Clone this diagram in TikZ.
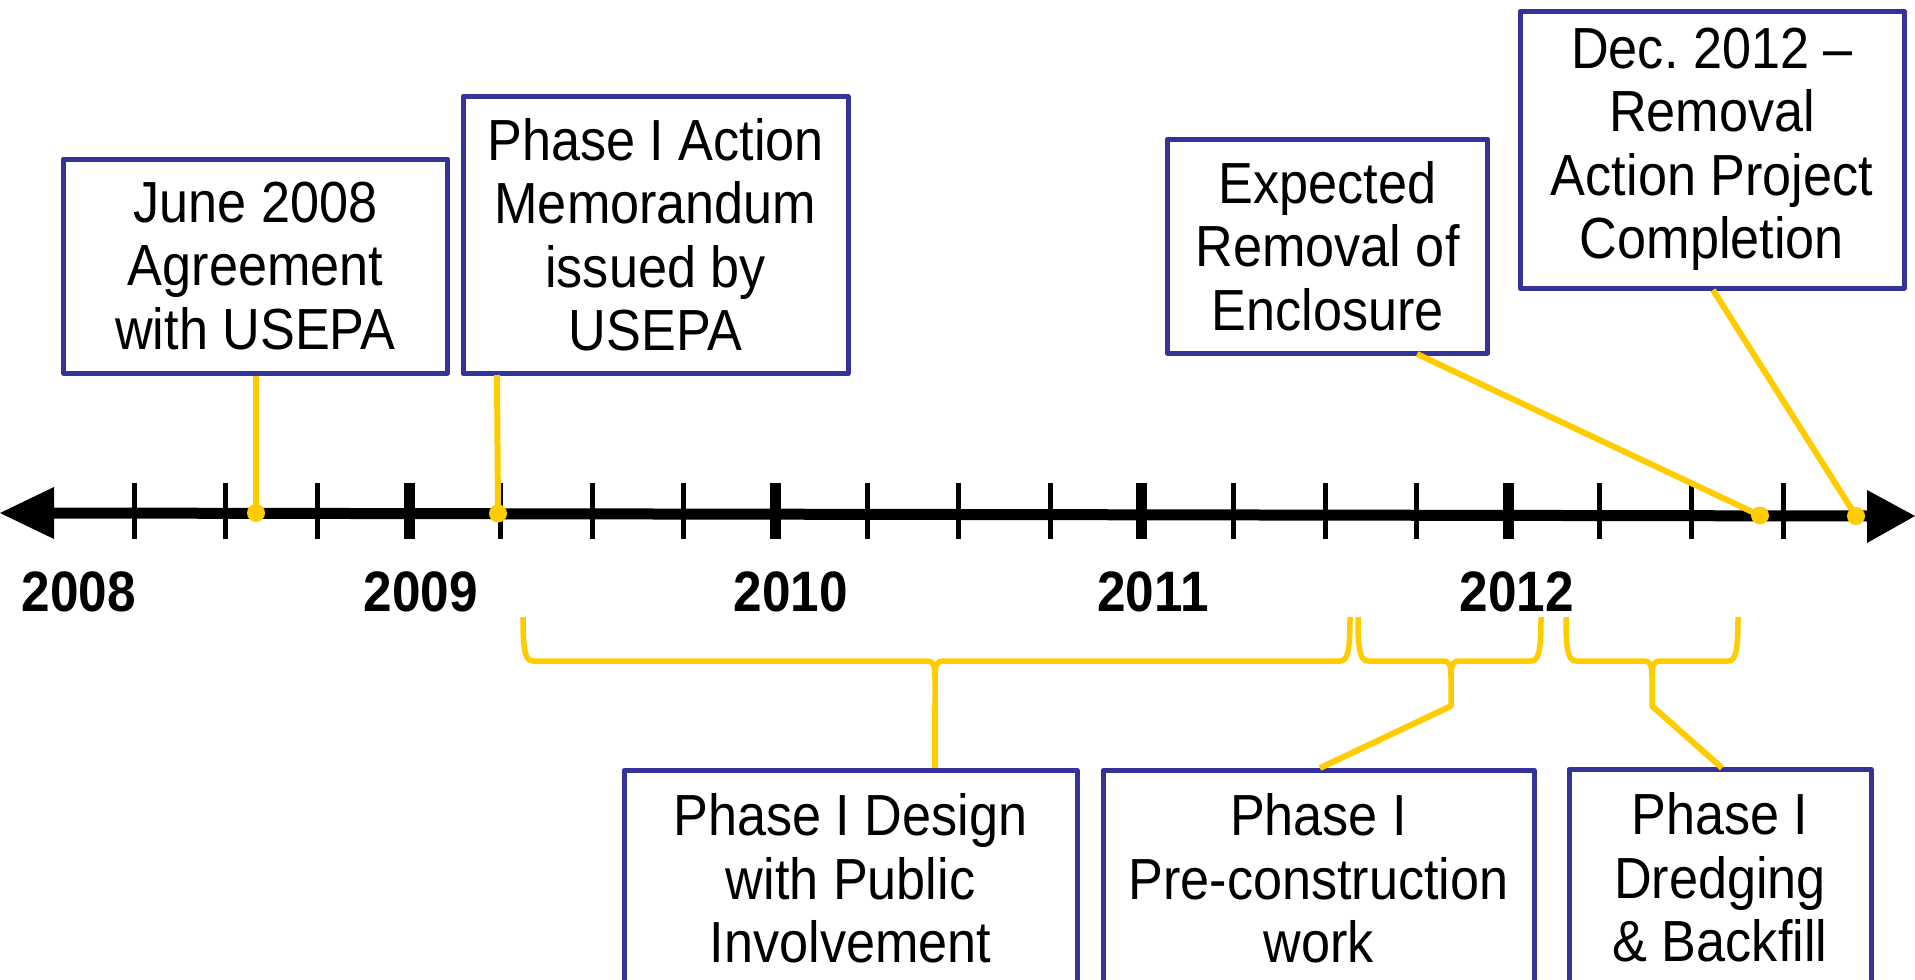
\documentclass[tikz,border=0pt]{standalone}
\usepackage{fontspec}
\setmainfont{Liberation Sans}[FakeStretch=0.9]
\definecolor{boxblue}{RGB}{51,51,153}
\definecolor{gold}{RGB}{255,204,0}
\newcommand\evfont{\fontsize{58}{63.5}\selectfont}
\newcommand\yrfont{\fontsize{57}{60}\selectfont\bfseries}
\newcommand\yBrace[3]{%
  \draw[brace] (#1,617) .. controls (#1,650) and (#1+2,661) .. (#1+10,661)
    -- (#3-8,661) .. controls (#3-2,661) and (#3,664) .. (#3,678) -- (#3,706)
    -- (#3,678) .. controls (#3,664) and (#3+2,661) .. (#3+8,661)
    -- (#2-10,661) .. controls (#2-2,661) and (#2,650) .. (#2,617);}
\begin{document}
\frenchspacing
\begin{tikzpicture}[x=1pt,y=-1pt,
  evbox/.style={draw=boxblue, line width=5pt, line join=round, fill=white, align=center,
    font=\evfont, inner sep=0pt},
  conn/.style={draw=gold, line width=6pt},
  brace/.style={draw=gold, line width=5.5pt, line join=round},
  dot/.style={circle, fill=gold, inner sep=0pt, minimum size=18pt},
  yr/.style={font=\yrfont, inner sep=0pt},
  tickthin/.style={line width=5pt},
  tickthick/.style={line width=11pt}]
\useasboundingbox (0,0) rectangle (1915,980);
\clip (0,0) rectangle (1915,980);
% axis
\draw[line width=11pt] (50,513) -- (1870,516);
\fill (0,513) -- (54,487) -- (54,539) -- cycle;
\fill (1915,516) -- (1867,490) -- (1867,543) -- cycle;
\foreach \i in {0,...,18}{
  \pgfmathsetmacro\xx{134.3+91.6*\i}
  \ifnum\i=3 \draw[tickthick] (\xx,483) -- (\xx,539);
  \else\ifnum\i=7 \draw[tickthick] (\xx,483) -- (\xx,539);
  \else\ifnum\i=11 \draw[tickthick] (\xx,483) -- (\xx,539);
  \else\ifnum\i=15 \draw[tickthick] (\xx,483) -- (\xx,539);
  \else \draw[tickthin] (\xx,483) -- (\xx,539);
  \fi\fi\fi\fi
}
% years
\node[yr] (y8) at (79,592) {2008};
\node[yr] (y9) at (421,592) {2009};
\node[yr] (y10) at (791,592) {2010};
\node[yr] (y11) at (1153,592) {2011};
\node[yr] (y12) at (1517,592) {2012};
% top boxes
\node[evbox, minimum width=384pt, minimum height=214pt] (b1) at (255.5,266)
  {June 2008\\Agreement\\with USEPA};
\node[evbox, minimum width=385pt, minimum height=277pt] (b2) at (655.5,235)
  {Phase I Action\\Memorandum\\issued by\\USEPA};
\node[evbox, minimum width=320pt, minimum height=214pt] (b3) at (1327.6,246)
  {Expected\\Removal of\\Enclosure};
\node[evbox, minimum width=384pt, minimum height=277pt] (b4) at (1712,149.5)
  {Dec. 2012 --\\Removal\\Action Project\\Completion};
% dots
\node[dot] (d1) at (256,513) {};
\node[dot] (d2) at (498,513.5) {};
\node[dot] (d3) at (1760,515.5) {};
\node[dot] (d4) at (1856,516) {};
\coordinate (c2) at (497,375);
\coordinate (c3) at (1417,354);
\coordinate (c4) at (1713,290);
\draw[conn] (b1.south -| d1) -- (d1.center);
\draw[conn] (c2) -- (d2.center);
\draw[conn] (c3) -- (d3.center);
\draw[conn] (c4) -- (d4.center);
% bottom boxes
\node[evbox, minimum width=453pt, minimum height=216pt, anchor=north] (b5) at (850.5,768)
  {Phase I Design\\with Public\\Involvement};
\node[evbox, minimum width=431pt, minimum height=216pt, anchor=north] (b6) at (1318.5,768)
  {Phase I\\Pre-construction\\work};
\node[evbox, minimum width=302pt, minimum height=216pt, anchor=north] (b7) at (1720,767)
  {Phase I\\Dredging\\\& Backfill};
% braces
\yBrace{523}{1350}{935}
\yBrace{1358}{1541}{1451}
\yBrace{1566}{1738}{1652}
\coordinate (t5) at (935,706);
\coordinate (t6) at (1451,706);
\coordinate (t7) at (1652,706);
\coordinate (e6) at (1320,768);
\coordinate (e7) at (1722,768);
\draw[conn] (t5) -- (b5.north -| t5);
\draw[conn] (t6) -- (e6);
\draw[conn] (t7) -- (e7);
\end{tikzpicture}
\end{document}
